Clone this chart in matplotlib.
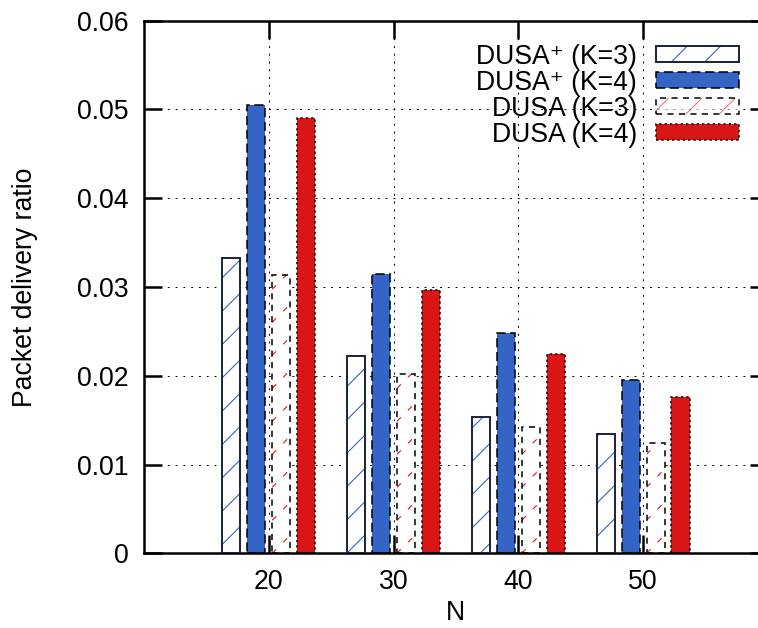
import numpy as np
import matplotlib
matplotlib.use("Agg")
import matplotlib.pyplot as plt
from matplotlib.patches import Patch
from matplotlib.lines import Line2D
from matplotlib.legend_handler import HandlerTuple

# packet delivery ratio per number of nodes N
N = [20, 30, 40, 50]
dusa_plus_k3 = [0.0333, 0.0222, 0.0153, 0.0134]
dusa_plus_k4 = [0.0505, 0.0315, 0.0248, 0.0195]
dusa_k3 = [0.0313, 0.0202, 0.0142, 0.0124]
dusa_k4 = [0.0490, 0.0297, 0.0224, 0.0176]
labels = ["DUSA\u207a (K=3)", "DUSA\u207a (K=4)", "DUSA (K=3)", "DUSA (K=4)"]

BLUE = "#3465c6"
RED = "#d91515"
FS = 9.6

plt.rcParams["font.family"] = ["Liberation Sans", "DejaVu Sans"]
plt.rcParams["hatch.linewidth"] = 0.4

# high dpi keeps the hatch spacing wide (hatch cell is one inch)
fig = plt.figure(figsize=(3.79, 3.14), dpi=200)
ax = fig.add_axes([0.19, 0.119, 0.823, 0.848])
ax.set_xlim(10, 60)
ax.set_ylim(0, 0.06)

x = np.array(N, dtype=float)
w = 1.45
offs = [-3, -1, 1, 3]

# pixel scale of the data axes, used for the dashed hatch
p0 = ax.transData.transform((0, 0))
p1 = ax.transData.transform((1, 0.01))
px_x = p1[0] - p0[0]
px_y = (p1[1] - p0[1]) / 0.01


def dashed_hatch(rects, color, step_px=33):
    k = px_x / px_y            # 45 degrees on screen
    step = step_px / px_y
    for r in rects:
        x0, x1 = r.get_x(), r.get_x() + r.get_width()
        h = r.get_height()
        for c in np.arange(-step, h + step, step):
            ln = Line2D([x0, x1], [c, c + k * (x1 - x0)], color=color,
                        linewidth=0.4, linestyle=(0, (5, 9)), zorder=2.5)
            ax.add_line(ln)
            ln.set_clip_path(r)


# (values, fill, hatch colour, edge linestyle, edge colour)
series = [
    (dusa_plus_k3, "white", BLUE, "-", "#1b2238"),
    (dusa_plus_k4, BLUE, None, (0, (6, 3)), "black"),
    (dusa_k3, "white", RED, (0, (4, 3.5)), "black"),
    (dusa_k4, RED, None, (0, (1.5, 2)), "black"),
]

handles = []
for i, ((vals, fc, hc, ls, ec), off) in enumerate(zip(series, offs)):
    xs = x + off
    if i == 0:
        ax.bar(xs, vals, w, color=fc, edgecolor=hc, hatch="//", linewidth=0, zorder=2)
        under = Patch(facecolor=fc, edgecolor=hc, hatch="//", linewidth=0)
    elif i == 2:
        bars = ax.bar(xs, vals, w, color=fc, linewidth=0, zorder=2)
        dashed_hatch(bars.patches, hc)
        under = Patch(facecolor=fc, edgecolor=hc, hatch="//", linewidth=0, alpha=0.55)
    else:
        ax.bar(xs, vals, w, color=fc, linewidth=0, zorder=2)
        under = Patch(facecolor=fc, linewidth=0)
    lw = 0.7 if ls == "-" else 0.55
    ax.bar(xs, vals, w, fill=False, edgecolor=ec, linewidth=lw, linestyle=ls, zorder=3)
    over = Patch(fill=False, edgecolor=ec, linewidth=lw, linestyle=ls)
    handles.append((under, over))

ax.set_xticks(N)
ax.set_yticks(np.arange(0, 0.061, 0.01))
ax.set_yticklabels(["0", "0.01", "0.02", "0.03", "0.04", "0.05", "0.06"])

ax.set_axisbelow(True)
ax.grid(True, color="black", linewidth=0.35, linestyle=(0, (2, 6)))
ax.tick_params(direction="in", length=6.5, width=0.9, labelsize=FS,
               top=True, right=True, pad=5.5)
for s in ax.spines.values():
    s.set_linewidth(0.9)

ax.set_xlabel("N", fontsize=FS, labelpad=2)
ax.set_ylabel("Packet delivery ratio", fontsize=FS, labelpad=14)

ax.legend(handles, labels, loc="upper right", bbox_to_anchor=(1.0, 1.012),
          frameon=False, fontsize=FS,
          markerfirst=False, handlelength=3.1, handleheight=0.55,
          handletextpad=0.7, labelspacing=0.0, borderaxespad=0.8,
          borderpad=0.3, handler_map={tuple: HandlerTuple(ndivide=1)})

fig.savefig("out.png", dpi=200)
